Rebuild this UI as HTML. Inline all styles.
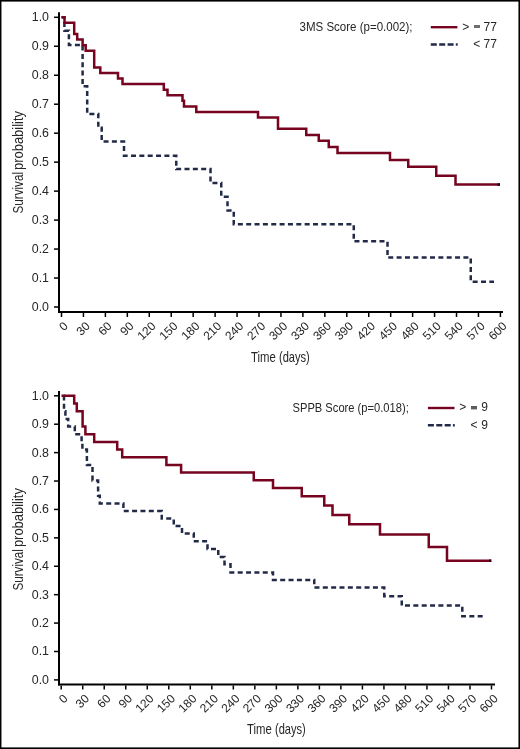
<!DOCTYPE html>
<html><head><meta charset="utf-8"><style>
html,body{margin:0;padding:0;background:#fff;}
body{width:520px;height:749px;overflow:hidden;}
svg{display:block;font-family:"Liberation Sans", sans-serif;will-change:transform;}
text{fill:#262626;}
</style></head><body>
<svg width="520" height="749" viewBox="0 0 520 749">
<rect x="0" y="0" width="520" height="749" fill="#fff"/>
<line x1="59" y1="12.3" x2="59" y2="313" stroke="#000" stroke-width="2"/>
<line x1="58" y1="312" x2="503" y2="312" stroke="#000" stroke-width="2"/>
<line x1="54" y1="307.00" x2="58" y2="307.00" stroke="#000" stroke-width="1.5"/>
<text x="49" y="310.90" text-anchor="end" font-size="12.4">0.0</text>
<line x1="54" y1="278.03" x2="58" y2="278.03" stroke="#000" stroke-width="1.5"/>
<text x="49" y="281.93" text-anchor="end" font-size="12.4">0.1</text>
<line x1="54" y1="249.06" x2="58" y2="249.06" stroke="#000" stroke-width="1.5"/>
<text x="49" y="252.96" text-anchor="end" font-size="12.4">0.2</text>
<line x1="54" y1="220.09" x2="58" y2="220.09" stroke="#000" stroke-width="1.5"/>
<text x="49" y="223.99" text-anchor="end" font-size="12.4">0.3</text>
<line x1="54" y1="191.12" x2="58" y2="191.12" stroke="#000" stroke-width="1.5"/>
<text x="49" y="195.02" text-anchor="end" font-size="12.4">0.4</text>
<line x1="54" y1="162.15" x2="58" y2="162.15" stroke="#000" stroke-width="1.5"/>
<text x="49" y="166.05" text-anchor="end" font-size="12.4">0.5</text>
<line x1="54" y1="133.18" x2="58" y2="133.18" stroke="#000" stroke-width="1.5"/>
<text x="49" y="137.08" text-anchor="end" font-size="12.4">0.6</text>
<line x1="54" y1="104.21" x2="58" y2="104.21" stroke="#000" stroke-width="1.5"/>
<text x="49" y="108.11" text-anchor="end" font-size="12.4">0.7</text>
<line x1="54" y1="75.24" x2="58" y2="75.24" stroke="#000" stroke-width="1.5"/>
<text x="49" y="79.14" text-anchor="end" font-size="12.4">0.8</text>
<line x1="54" y1="46.27" x2="58" y2="46.27" stroke="#000" stroke-width="1.5"/>
<text x="49" y="50.17" text-anchor="end" font-size="12.4">0.9</text>
<line x1="54" y1="17.30" x2="58" y2="17.30" stroke="#000" stroke-width="1.5"/>
<text x="49" y="21.20" text-anchor="end" font-size="12.4">1.0</text>
<line x1="61.50" y1="313" x2="61.50" y2="317" stroke="#000" stroke-width="1.5"/>
<text text-anchor="end" font-size="12" transform="translate(68.70,326.7) rotate(-45)">0</text>
<line x1="83.44" y1="313" x2="83.44" y2="317" stroke="#000" stroke-width="1.5"/>
<text text-anchor="end" font-size="12" transform="translate(90.64,326.7) rotate(-45)">30</text>
<line x1="105.39" y1="313" x2="105.39" y2="317" stroke="#000" stroke-width="1.5"/>
<text text-anchor="end" font-size="12" transform="translate(112.59,326.7) rotate(-45)">60</text>
<line x1="127.33" y1="313" x2="127.33" y2="317" stroke="#000" stroke-width="1.5"/>
<text text-anchor="end" font-size="12" transform="translate(134.53,326.7) rotate(-45)">90</text>
<line x1="149.28" y1="313" x2="149.28" y2="317" stroke="#000" stroke-width="1.5"/>
<text text-anchor="end" font-size="12" transform="translate(156.48,326.7) rotate(-45)">120</text>
<line x1="171.22" y1="313" x2="171.22" y2="317" stroke="#000" stroke-width="1.5"/>
<text text-anchor="end" font-size="12" transform="translate(178.42,326.7) rotate(-45)">150</text>
<line x1="193.17" y1="313" x2="193.17" y2="317" stroke="#000" stroke-width="1.5"/>
<text text-anchor="end" font-size="12" transform="translate(200.37,326.7) rotate(-45)">180</text>
<line x1="215.12" y1="313" x2="215.12" y2="317" stroke="#000" stroke-width="1.5"/>
<text text-anchor="end" font-size="12" transform="translate(222.31,326.7) rotate(-45)">210</text>
<line x1="237.06" y1="313" x2="237.06" y2="317" stroke="#000" stroke-width="1.5"/>
<text text-anchor="end" font-size="12" transform="translate(244.26,326.7) rotate(-45)">240</text>
<line x1="259.00" y1="313" x2="259.00" y2="317" stroke="#000" stroke-width="1.5"/>
<text text-anchor="end" font-size="12" transform="translate(266.20,326.7) rotate(-45)">270</text>
<line x1="280.95" y1="313" x2="280.95" y2="317" stroke="#000" stroke-width="1.5"/>
<text text-anchor="end" font-size="12" transform="translate(288.15,326.7) rotate(-45)">300</text>
<line x1="302.89" y1="313" x2="302.89" y2="317" stroke="#000" stroke-width="1.5"/>
<text text-anchor="end" font-size="12" transform="translate(310.09,326.7) rotate(-45)">330</text>
<line x1="324.84" y1="313" x2="324.84" y2="317" stroke="#000" stroke-width="1.5"/>
<text text-anchor="end" font-size="12" transform="translate(332.04,326.7) rotate(-45)">360</text>
<line x1="346.79" y1="313" x2="346.79" y2="317" stroke="#000" stroke-width="1.5"/>
<text text-anchor="end" font-size="12" transform="translate(353.99,326.7) rotate(-45)">390</text>
<line x1="368.73" y1="313" x2="368.73" y2="317" stroke="#000" stroke-width="1.5"/>
<text text-anchor="end" font-size="12" transform="translate(375.93,326.7) rotate(-45)">420</text>
<line x1="390.68" y1="313" x2="390.68" y2="317" stroke="#000" stroke-width="1.5"/>
<text text-anchor="end" font-size="12" transform="translate(397.88,326.7) rotate(-45)">450</text>
<line x1="412.62" y1="313" x2="412.62" y2="317" stroke="#000" stroke-width="1.5"/>
<text text-anchor="end" font-size="12" transform="translate(419.82,326.7) rotate(-45)">480</text>
<line x1="434.56" y1="313" x2="434.56" y2="317" stroke="#000" stroke-width="1.5"/>
<text text-anchor="end" font-size="12" transform="translate(441.76,326.7) rotate(-45)">510</text>
<line x1="456.51" y1="313" x2="456.51" y2="317" stroke="#000" stroke-width="1.5"/>
<text text-anchor="end" font-size="12" transform="translate(463.71,326.7) rotate(-45)">540</text>
<line x1="478.45" y1="313" x2="478.45" y2="317" stroke="#000" stroke-width="1.5"/>
<text text-anchor="end" font-size="12" transform="translate(485.65,326.7) rotate(-45)">570</text>
<line x1="500.40" y1="313" x2="500.40" y2="317" stroke="#000" stroke-width="1.5"/>
<text text-anchor="end" font-size="12" transform="translate(507.60,326.7) rotate(-45)">600</text>
<g transform="translate(23.3,213.5) rotate(-90)"><text x="0" y="0" font-size="14.5" textLength="41.5" lengthAdjust="spacingAndGlyphs">Survival</text><text x="43.5" y="0" font-size="14.5" textLength="59.0" lengthAdjust="spacingAndGlyphs">probability</text></g>
<text x="251.0" y="361.6" font-size="14.5" textLength="24.8" lengthAdjust="spacingAndGlyphs">Time</text>
<text x="279.0" y="361.6" font-size="14.5" textLength="30.8" lengthAdjust="spacingAndGlyphs">(days)</text>
<path d="M61.50,17.30 H64.40 V30.70 H68.90 V44.90 H82.60 V86.30 H87.20 V113.90 H98.30 V127.70 H101.70 V141.50 H124.00 V155.80 H176.25 V169.10 H210.50 V182.90 H221.25 V196.70 H227.50 V210.50 H233.75 V224.30 H353.75 V241.30 H387.50 V257.60 H470.75 V281.75 H494.00" fill="none" stroke="#222a48" stroke-width="2.5" stroke-dasharray="5.0 3.35" stroke-dashoffset="0.75" stroke-linejoin="miter"/>
<path d="M61.50,17.30 H64.50 V22.87 H74.20 V34.00 H77.20 V39.60 H82.60 V45.15 H85.70 V50.70 H94.20 V67.40 H100.30 V73.00 H118.00 V78.60 H122.50 V84.10 H163.80 V89.70 H167.50 V95.30 H182.50 V100.85 H184.00 V106.40 H196.30 V112.00 H258.00 V117.60 H278.00 V128.70 H306.25 V135.00 H318.75 V140.75 H328.75 V147.00 H337.50 V153.00 H390.00 V160.00 H408.25 V166.75 H436.25 V175.75 H455.50 V184.50 H500.00" fill="none" stroke="#76031f" stroke-width="2.5" stroke-linejoin="miter" stroke-linecap="butt"/>
<text x="299.5" y="30.5" font-size="12.5" textLength="113" lengthAdjust="spacingAndGlyphs">3MS Score (p=0.002);</text>
<line x1="430.8" y1="27.2" x2="457.40000000000003" y2="27.2" stroke="#76031f" stroke-width="2.4"/>
<line x1="430.8" y1="44.5" x2="454.0" y2="44.5" stroke="#222a48" stroke-width="2.4" stroke-dasharray="6 2.4"/>
<line x1="455.8" y1="44.5" x2="457.7" y2="44.5" stroke="#222a48" stroke-width="2.4"/>
<text x="462.2" y="30.9" font-size="12">&gt;</text><rect x="474" y="25" width="6" height="3" fill="#6e6e6e"/><text x="483.6" y="30.9" font-size="12">77</text>
<text x="473.3" y="47.8" font-size="12">&lt;</text><text x="483.6" y="47.8" font-size="12">77</text>
<line x1="59" y1="391" x2="59" y2="685.5" stroke="#000" stroke-width="2"/>
<line x1="58" y1="684.5" x2="495" y2="684.5" stroke="#000" stroke-width="2"/>
<line x1="54" y1="679.90" x2="58" y2="679.90" stroke="#000" stroke-width="1.5"/>
<text x="49" y="683.80" text-anchor="end" font-size="12.4">0.0</text>
<line x1="54" y1="651.49" x2="58" y2="651.49" stroke="#000" stroke-width="1.5"/>
<text x="49" y="655.39" text-anchor="end" font-size="12.4">0.1</text>
<line x1="54" y1="623.08" x2="58" y2="623.08" stroke="#000" stroke-width="1.5"/>
<text x="49" y="626.98" text-anchor="end" font-size="12.4">0.2</text>
<line x1="54" y1="594.67" x2="58" y2="594.67" stroke="#000" stroke-width="1.5"/>
<text x="49" y="598.57" text-anchor="end" font-size="12.4">0.3</text>
<line x1="54" y1="566.26" x2="58" y2="566.26" stroke="#000" stroke-width="1.5"/>
<text x="49" y="570.16" text-anchor="end" font-size="12.4">0.4</text>
<line x1="54" y1="537.85" x2="58" y2="537.85" stroke="#000" stroke-width="1.5"/>
<text x="49" y="541.75" text-anchor="end" font-size="12.4">0.5</text>
<line x1="54" y1="509.44" x2="58" y2="509.44" stroke="#000" stroke-width="1.5"/>
<text x="49" y="513.34" text-anchor="end" font-size="12.4">0.6</text>
<line x1="54" y1="481.03" x2="58" y2="481.03" stroke="#000" stroke-width="1.5"/>
<text x="49" y="484.93" text-anchor="end" font-size="12.4">0.7</text>
<line x1="54" y1="452.62" x2="58" y2="452.62" stroke="#000" stroke-width="1.5"/>
<text x="49" y="456.52" text-anchor="end" font-size="12.4">0.8</text>
<line x1="54" y1="424.21" x2="58" y2="424.21" stroke="#000" stroke-width="1.5"/>
<text x="49" y="428.11" text-anchor="end" font-size="12.4">0.9</text>
<line x1="54" y1="395.80" x2="58" y2="395.80" stroke="#000" stroke-width="1.5"/>
<text x="49" y="399.70" text-anchor="end" font-size="12.4">1.0</text>
<line x1="61.20" y1="685.5" x2="61.20" y2="689.5" stroke="#000" stroke-width="1.5"/>
<text text-anchor="end" font-size="12" transform="translate(68.40,699.2) rotate(-45)">0</text>
<line x1="82.72" y1="685.5" x2="82.72" y2="689.5" stroke="#000" stroke-width="1.5"/>
<text text-anchor="end" font-size="12" transform="translate(89.92,699.2) rotate(-45)">30</text>
<line x1="104.23" y1="685.5" x2="104.23" y2="689.5" stroke="#000" stroke-width="1.5"/>
<text text-anchor="end" font-size="12" transform="translate(111.43,699.2) rotate(-45)">60</text>
<line x1="125.75" y1="685.5" x2="125.75" y2="689.5" stroke="#000" stroke-width="1.5"/>
<text text-anchor="end" font-size="12" transform="translate(132.94,699.2) rotate(-45)">90</text>
<line x1="147.26" y1="685.5" x2="147.26" y2="689.5" stroke="#000" stroke-width="1.5"/>
<text text-anchor="end" font-size="12" transform="translate(154.46,699.2) rotate(-45)">120</text>
<line x1="168.78" y1="685.5" x2="168.78" y2="689.5" stroke="#000" stroke-width="1.5"/>
<text text-anchor="end" font-size="12" transform="translate(175.97,699.2) rotate(-45)">150</text>
<line x1="190.29" y1="685.5" x2="190.29" y2="689.5" stroke="#000" stroke-width="1.5"/>
<text text-anchor="end" font-size="12" transform="translate(197.49,699.2) rotate(-45)">180</text>
<line x1="211.81" y1="685.5" x2="211.81" y2="689.5" stroke="#000" stroke-width="1.5"/>
<text text-anchor="end" font-size="12" transform="translate(219.00,699.2) rotate(-45)">210</text>
<line x1="233.32" y1="685.5" x2="233.32" y2="689.5" stroke="#000" stroke-width="1.5"/>
<text text-anchor="end" font-size="12" transform="translate(240.52,699.2) rotate(-45)">240</text>
<line x1="254.83" y1="685.5" x2="254.83" y2="689.5" stroke="#000" stroke-width="1.5"/>
<text text-anchor="end" font-size="12" transform="translate(262.03,699.2) rotate(-45)">270</text>
<line x1="276.35" y1="685.5" x2="276.35" y2="689.5" stroke="#000" stroke-width="1.5"/>
<text text-anchor="end" font-size="12" transform="translate(283.55,699.2) rotate(-45)">300</text>
<line x1="297.87" y1="685.5" x2="297.87" y2="689.5" stroke="#000" stroke-width="1.5"/>
<text text-anchor="end" font-size="12" transform="translate(305.06,699.2) rotate(-45)">330</text>
<line x1="319.38" y1="685.5" x2="319.38" y2="689.5" stroke="#000" stroke-width="1.5"/>
<text text-anchor="end" font-size="12" transform="translate(326.58,699.2) rotate(-45)">360</text>
<line x1="340.89" y1="685.5" x2="340.89" y2="689.5" stroke="#000" stroke-width="1.5"/>
<text text-anchor="end" font-size="12" transform="translate(348.09,699.2) rotate(-45)">390</text>
<line x1="362.41" y1="685.5" x2="362.41" y2="689.5" stroke="#000" stroke-width="1.5"/>
<text text-anchor="end" font-size="12" transform="translate(369.61,699.2) rotate(-45)">420</text>
<line x1="383.93" y1="685.5" x2="383.93" y2="689.5" stroke="#000" stroke-width="1.5"/>
<text text-anchor="end" font-size="12" transform="translate(391.12,699.2) rotate(-45)">450</text>
<line x1="405.44" y1="685.5" x2="405.44" y2="689.5" stroke="#000" stroke-width="1.5"/>
<text text-anchor="end" font-size="12" transform="translate(412.64,699.2) rotate(-45)">480</text>
<line x1="426.95" y1="685.5" x2="426.95" y2="689.5" stroke="#000" stroke-width="1.5"/>
<text text-anchor="end" font-size="12" transform="translate(434.15,699.2) rotate(-45)">510</text>
<line x1="448.47" y1="685.5" x2="448.47" y2="689.5" stroke="#000" stroke-width="1.5"/>
<text text-anchor="end" font-size="12" transform="translate(455.67,699.2) rotate(-45)">540</text>
<line x1="469.99" y1="685.5" x2="469.99" y2="689.5" stroke="#000" stroke-width="1.5"/>
<text text-anchor="end" font-size="12" transform="translate(477.19,699.2) rotate(-45)">570</text>
<line x1="491.50" y1="685.5" x2="491.50" y2="689.5" stroke="#000" stroke-width="1.5"/>
<text text-anchor="end" font-size="12" transform="translate(498.70,699.2) rotate(-45)">600</text>
<g transform="translate(23.3,590.6) rotate(-90)"><text x="0" y="0" font-size="14.5" textLength="41.5" lengthAdjust="spacingAndGlyphs">Survival</text><text x="43.5" y="0" font-size="14.5" textLength="59.0" lengthAdjust="spacingAndGlyphs">probability</text></g>
<text x="247.0" y="734.0" font-size="14.5" textLength="24.8" lengthAdjust="spacingAndGlyphs">Time</text>
<text x="275.0" y="734.0" font-size="14.5" textLength="30.8" lengthAdjust="spacingAndGlyphs">(days)</text>
<path d="M61.50,395.80 H64.00 V411.20 H65.40 V418.90 H68.20 V426.60 H74.80 V434.30 H81.60 V442.00 H82.40 V449.60 H86.90 V465.00 H92.50 V480.40 H98.10 V495.80 H99.80 V503.50 H123.40 V511.00 H161.75 V518.60 H173.75 V526.00 H182.00 V533.50 H193.75 V541.20 H207.50 V549.00 H218.25 V557.00 H224.50 V564.20 H230.50 V572.40 H273.00 V580.00 H314.25 V587.50 H384.25 V596.25 H401.75 V605.50 H462.30 V616.30 H484.00" fill="none" stroke="#222a48" stroke-width="2.5" stroke-dasharray="5.0 3.35" stroke-dashoffset="6.25" stroke-linejoin="miter"/>
<path d="M61.50,395.80 H74.20 V403.50 H76.80 V411.20 H82.60 V426.60 H85.40 V434.30 H94.20 V442.00 H117.20 V449.60 H122.20 V457.30 H166.40 V465.00 H181.10 V472.40 H253.75 V480.20 H273.00 V488.00 H301.75 V496.25 H324.25 V505.50 H332.50 V515.00 H349.25 V524.25 H380.00 V534.40 H428.75 V547.00 H447.00 V560.75 H491.25" fill="none" stroke="#76031f" stroke-width="2.5" stroke-linejoin="miter" stroke-linecap="butt"/>
<text x="292.5" y="412" font-size="12.5" textLength="116.3" lengthAdjust="spacingAndGlyphs">SPPB Score (p=0.018);</text>
<line x1="427.9" y1="408" x2="454.5" y2="408" stroke="#76031f" stroke-width="2.4"/>
<line x1="427.9" y1="425.3" x2="451.09999999999997" y2="425.3" stroke="#222a48" stroke-width="2.4" stroke-dasharray="6 2.4"/>
<line x1="452.9" y1="425.3" x2="454.79999999999995" y2="425.3" stroke="#222a48" stroke-width="2.4"/>
<text x="459.3" y="411.4" font-size="12">&gt;</text><rect x="471" y="406" width="6" height="3.4" fill="#5e5e5e"/><text x="481.2" y="411.4" font-size="12">9</text>
<text x="470.4" y="428.5" font-size="12">&lt;</text><text x="481.2" y="428.5" font-size="12">9</text>
<rect x="497.6" y="183.3" width="2.4" height="2.5" fill="#2a0010"/>
<rect x="489.0" y="559.5" width="2.3" height="2.5" fill="#2a0010"/>
<rect x="0" y="0" width="1.45" height="749" fill="#000"/>
<rect x="0" y="0" width="520" height="1.6" fill="#000"/>
<rect x="518.45" y="0" width="1.55" height="749" fill="#000"/>
<rect x="0" y="747.4" width="520" height="1.6" fill="#000"/>
</svg>
</body></html>
